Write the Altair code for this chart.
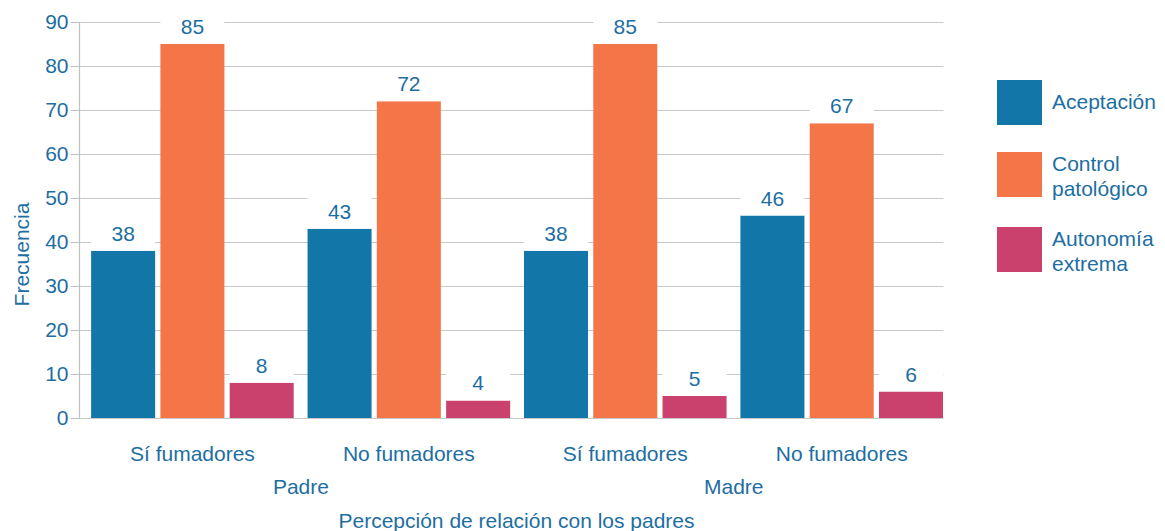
import altair as alt
import pandas as pd

# ---- data ----
parents = ["Padre", "Padre", "Madre", "Madre"]
smokers = ["Sí fumadores", "No fumadores", "Sí fumadores", "No fumadores"]
series = ["Aceptación", "Control patológico", "Autonomía extrema"]
aceptacion = [38, 43, 38, 46]
control = [85, 72, 85, 67]
autonomia = [8, 4, 5, 6]
colors = ["#1376A8", "#F37548", "#CB416D"]
y_ticks = [0, 10, 20, 30, 40, 50, 60, 70, 80, 90]

groups = [f"{p} · {s}" for p, s in zip(parents, smokers)]
rows = []
for i, g in enumerate(groups):
    for name, vals in zip(series, [aceptacion, control, autonomia]):
        rows.append({"grupo": g, "serie": name, "valor": vals[i]})
df = pd.DataFrame(rows)

parent_df = pd.DataFrame({
    "grupo": [groups[0], groups[2]],
    "padre": [parents[0], parents[2]],
})

FONT = "Liberation Sans"
TXT = "#1D6EA1"
FS = 21

x_enc = alt.X(
    "grupo:N",
    sort=groups,
    scale=alt.Scale(paddingInner=0.064, paddingOuter=0.028, align=1),
    axis=alt.Axis(
        title="Percepción de relación con los padres",
        labelExpr="split(datum.label, ' · ')[1]",
        ticks=False,
        domain=False,
        grid=False,
        labelAngle=0,
        labelPadding=42,
        labelBaseline="alphabetic",
        labelFontSize=FS,
        labelColor=TXT,
        labelFont=FONT,
        titleFont=FONT,
        titleFontSize=FS,
        titleFontWeight="normal",
        titleColor=TXT,
        titleX=437,
        titleY=109,
        titleBaseline="alphabetic",
        titleAlign="center",
    ),
)
xoff = alt.XOffset("serie:N", sort=series,
                   scale=alt.Scale(paddingInner=0.076, paddingOuter=0))

y_scale = alt.Scale(domain=[0, 90], nice=False)

bars = alt.Chart(df).mark_bar().encode(
    x=x_enc,
    xOffset=xoff,
    y=alt.Y(
        "valor:Q",
        scale=y_scale,
        axis=alt.Axis(
            title="Frecuencia",
            values=y_ticks,
            grid=True,
            gridColor="#c8c8c8",
            gridWidth=1.2,
            domainColor="#c0c0c0",
            domainWidth=1.2,
            tickColor="#c0c0c0",
            tickSize=9,
            labelPadding=2,
            labelFontSize=FS,
            labelColor=TXT,
            labelFont=FONT,
            titleFont=FONT,
            titleFontSize=FS,
            titleFontWeight="normal",
            titleColor=TXT,
            titleAngle=270,
            titleX=-51,
            titleY=232,
            titleBaseline="alphabetic",
            titleAlign="center",
        ),
    ),
    color=alt.Color(
        "serie:N",
        sort=series,
        scale=alt.Scale(domain=series, range=colors),
        legend=alt.Legend(
            title=None,
            orient="none",
            legendX=918,
            legendY=58,
            symbolType="square",
            symbolSize=2025,
            symbolStrokeWidth=0,
            symbolOpacity=1,
            rowPadding=27,
            labelOffset=10,
            labelFontSize=FS,
            labelFont=FONT,
            labelColor=TXT,
            labelBaseline={"expr": "length(split(datum.label, ' ')) > 1 ? 'bottom' : 'middle'"},
            labelLimit=300,
            labelExpr="split(datum.label, ' ')",
        ),
    ),
)

boxes = alt.Chart(df).transform_calculate(
    top="datum.valor + 7"
).mark_bar(color="white", opacity=1).encode(
    x=alt.X("grupo:N", sort=groups),
    xOffset=xoff,
    y=alt.Y("valor:Q", scale=y_scale),
    y2="top:Q",
)

labels = alt.Chart(df).mark_text(
    dy=-10, baseline="alphabetic", fontSize=FS, font=FONT, color=TXT
).encode(
    x=alt.X("grupo:N", sort=groups),
    xOffset=xoff,
    y=alt.Y("valor:Q", scale=y_scale),
    text="valor:Q",
)

parent_labels = alt.Chart(parent_df).mark_text(
    dx=108.5, baseline="alphabetic", fontSize=FS, font=FONT, color=TXT
).encode(
    x=alt.X("grupo:N", sort=groups),
    y=alt.value(472),
    text="padre:N",
)

chart = alt.layer(bars, boxes, labels, parent_labels).properties(
    width=864,
    height=396,
    padding={"left": 71, "top": 14, "right": 214, "bottom": 113},
    autosize=alt.AutoSizeParams(type="none"),
).configure(
    style={"guide-label": {"lineHeight": 25}}
).configure_view(stroke=None)

chart.save("out.html", embed_options={"renderer": "svg", "actions": False})
